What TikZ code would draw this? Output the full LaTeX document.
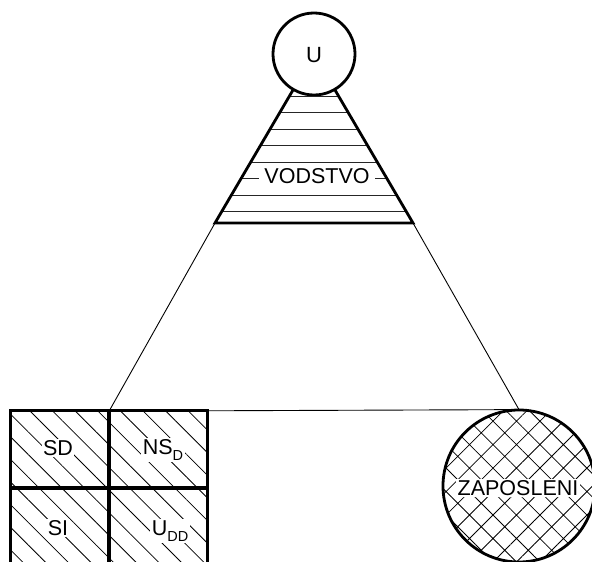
\documentclass[tikz,border=0pt]{standalone}
\usepackage{fontspec}
\setmainfont{Liberation Sans}
\usetikzlibrary{patterns.meta}
\tikzset{
  heavy/.style={line width=2.8pt},
  thinline/.style={line width=0.9pt},
  cellbox/.style={minimum width=98pt, minimum height=77pt,
    inner sep=0pt, pattern={Lines[angle=-45,distance=16pt,line width=0.8pt]}},
  lbl/.style={fill=white, inner sep=1.5pt, font=\fontsize{21.5}{24}\selectfont}
}
\newcommand{\sbD}[1]{\raisebox{-0.28em}{\fontsize{14.5}{14.5}\selectfont #1}}
\begin{document}
\begin{tikzpicture}[x=1pt,y=-1pt]
  \useasboundingbox (0,0) rectangle (592,562);
  \clip (0,0) rectangle (592,562);

  % top unit
  \node[draw, heavy, circle, minimum size=82pt, inner sep=0pt] (u) at (314,54) {};
  \node[font=\fontsize{22}{24}\selectfont, inner sep=0pt] (ulbl) at (314,55) {U};

  % management band (trapezoid)
  \coordinate (tl) at (293,90);
  \coordinate (tr) at (335,90);
  \coordinate (bl) at (215,223);
  \coordinate (br) at (413,223);
  \begin{scope}
    \clip (tl) -- (tr) -- (br) -- (bl) -- cycle;
    \foreach \yy in {96.2,112.7,129.2,145.7,162.2,178.7,195.2,211.7}
      \draw[line width=0.9pt, black!85] (200,\yy) -- (430,\yy);
  \end{scope}
  \draw[heavy] (tl) -- (bl) -- (br) -- (tr);
  \node[lbl, inner xsep=5pt, inner ysep=2pt] (vod) at (317,176.5) {VODSTVO};

  % departments grid: hatched cells, then their borders on top
  \node[cellbox] (sd)  at (60,449.5)  {};
  \node[cellbox] (nsd) at (158,449.5) {};
  \node[cellbox] (si)  at (60,526.5)  {};
  \node[cellbox] (udd) at (158,526.5) {};
  \foreach \c in {sd,nsd,si,udd}
    \draw[heavy] (\c.north west) rectangle (\c.south east);
  \node[lbl] (sdl)  at (58,448)  {SD};
  \node[lbl] (nsdl) at (163,450) {NS\sbD{D}};
  \node[lbl] (sil)  at (58,528)  {SI};
  \node[lbl] (uddl) at (170,531) {U\sbD{DD}};

  % employees
  \node[draw, heavy, circle, minimum size=152pt, inner sep=0pt,
        pattern={Hatch[angle=45,distance=16.6pt,line width=0.8pt]}] (zap) at (519,486) {};
  \node[lbl] (zapl) at (518,488) {ZAPOSLENI};

  % outer triangle
  \draw[thinline] (bl) -- (sd.north east);
  \draw[thinline] (br) -- (zap.north);
  \draw[thinline] (nsd.north east) -- (zap.north);
\end{tikzpicture}
\end{document}
